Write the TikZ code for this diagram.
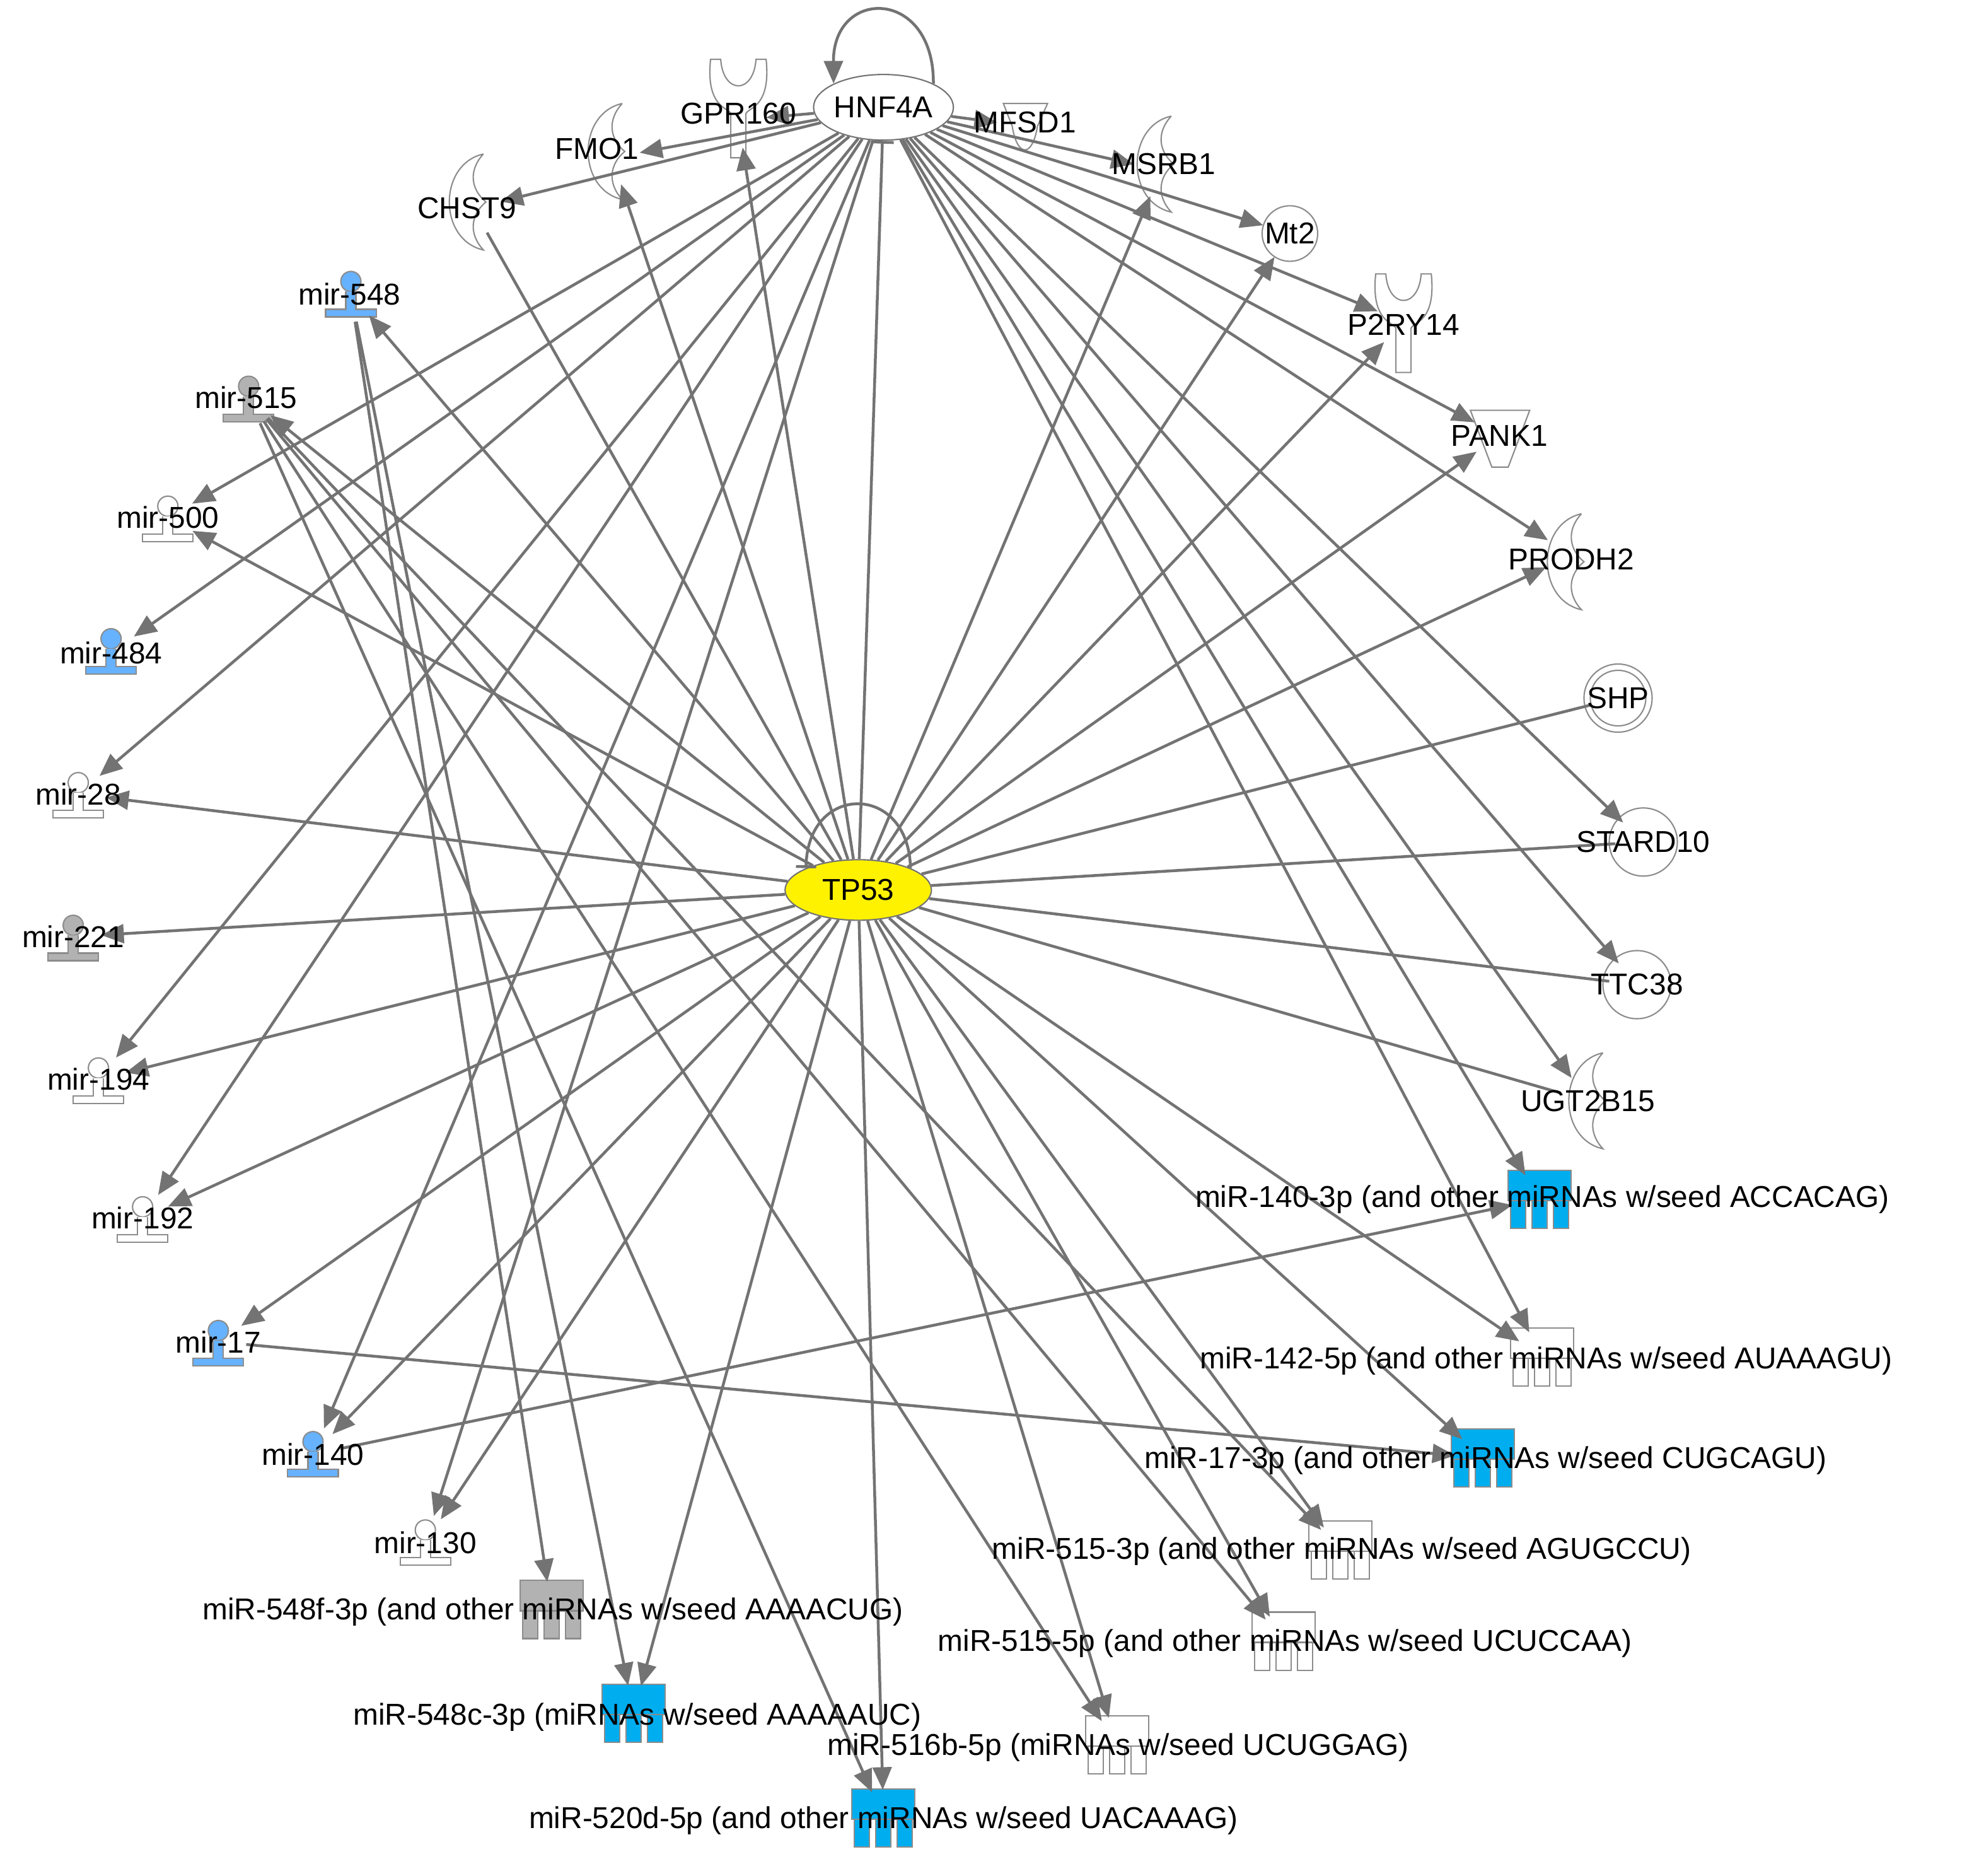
\documentclass[tikz,border=0pt]{standalone}
\usepackage{fontspec}
\setmainfont{Liberation Sans}
\usetikzlibrary{arrows.meta,shapes.geometric}
\begin{document}
\begin{tikzpicture}[x=0.05cm,y=-0.05cm,
  every node/.style={font=\fontsize{34}{36}\selectfont},
  hub/.style={circle,inner sep=0,minimum size=2.2cm},
  lbl/.style={inner sep=0},
  ed/.style={draw=black!55,line width=3.2pt,-{Triangle[length=0.9cm,width=0.75cm]}},
  pl/.style={draw=black!55,line width=3.2pt},
  ic/.style={draw=black!45,line width=1.5pt},
  hp/.pic={\draw[ic,fill=#1] (0,-12) circle (8);
    \draw[ic,fill=#1] (-4,-4) -- (-4,10) -- (-20,10) -- (-20,16) -- (20,16) -- (20,10) -- (4,10) -- (4,-4);},
  bx/.pic={\draw[ic,fill=#1] (-25,-20) rectangle (25,4);
    \foreach \u in {-17,0,17}{\draw[ic,fill=#1] (\u-6,4) rectangle (\u+6,26);}},
  enz/.pic={\draw[ic,fill=white] (8,-38) .. controls (-28,-30) and (-28,30) .. (8,38) .. controls (-4,25) and (-2,10) .. (10,0) .. controls (-2,-10) and (-4,-25) .. (8,-38);},
  rec/.pic={\draw[ic,fill=white] (-22,-38) .. controls (-26,0) and (-8,0) .. (-6,5) -- (-6,40) -- (6,40) -- (6,5) .. controls (8,0) and (26,0) .. (22,-38) -- (14,-38) .. controls (12,-10) and (-12,-10) .. (-14,-38) -- cycle;}
]
\useasboundingbox (0,0) rectangle (1568,1486);
% icons
\pic at (585,85) {rec}; \pic at (1112,255) {rec};
\pic at (485,120) {enz}; \pic at (375,160) {enz}; \pic at (920,130) {enz};
\pic at (1245,445) {enz}; \pic at (1262,872) {enz};
\draw[ic,fill=white] (795,82) -- (830,82) -- (822,100) .. controls (818,125) and (806,125) .. (802,100) -- cycle;
\draw[ic,fill=white] (1165,325) -- (1212,325) -- (1195,370) -- (1182,370) -- cycle;
\draw[ic,fill=white] (1022,185) circle (22);
\draw[ic,fill=white] (1282,553) circle (27); \draw[ic] (1282,553) circle (22);
\draw[ic,fill=white] (1302,667) circle (27);
\draw[ic,fill=white] (1297,780) circle (27);
\pic at (278,235) {hp=blue!50!cyan!60!white};
\pic at (197,318) {hp=black!30};
\pic at (133,413) {hp=white};
\pic at (88,518) {hp=blue!50!cyan!60!white};
\pic at (62,632) {hp=white};
\pic at (58,745) {hp=black!30};
\pic at (78,858) {hp=white};
\pic at (113,968) {hp=white};
\pic at (173,1066) {hp=blue!50!cyan!60!white};
\pic at (248,1154) {hp=blue!50!cyan!60!white};
\pic at (337,1224) {hp=white};
\pic at (1220,947) {bx=cyan};
\pic at (1222,1072) {bx=white};
\pic at (1175,1152) {bx=cyan};
\pic at (1062,1225) {bx=white};
\pic at (1017,1297) {bx=white};
\pic at (437,1272) {bx=black!30};
\pic at (502,1354) {bx=cyan};
\pic at (885,1379) {bx=white};
\pic at (700,1437) {bx=cyan};
% hubs
\node[ellipse,draw=black!55,line width=1.5pt,fill=white,minimum width=5.2cm,minimum height=2.6cm,inner sep=0] (HNF) at (700,85) {HNF4A};
\node[ellipse,draw=black!55,line width=1.5pt,fill=yellow,minimum width=5.8cm,minimum height=2.4cm,inner sep=0] (TP) at (680,705) {TP53};
\foreach \n/\x/\y in {GPR/585/95, FMO/485/125, CHS/375/165, MFS/812/100, MSR/920/135, MT/1022/185, P2R/1112/255, PAN/1188/345, PRO/1245/440, SHP/1282/553, STA/1302/667, TTC/1297/780, UGT/1258/872,
 m548/278/233, m515/197/315, m500/133/410, m484/88/517, m28/62/629, m221/58/742, m194/78/855, m192/113/965, m17/173/1063, m140/248/1152, m130/337/1222,
 c140/1220/950, c142/1222/1075, c173/1175/1155, c5153/1062/1228, c5155/1017/1300, c548f/437/1275, c548c/502/1357, c516b/885/1382, c520d/700/1440}
  \node[hub] (\n) at (\x,\y) {};
% edges
\foreach \t in {GPR,FMO,CHS,MFS,MSR,MT,P2R,PAN,PRO,STA,TTC,UGT,m500,m484,m28,m194,m192,m140,m130,c142,c140}
  \draw[ed] (HNF) -- (\t);
\foreach \t in {m548,m515,m500,m28,m221,m194,m192,m17,m140,m130,GPR,FMO,MSR,MT,P2R,PAN,PRO,c548c,c520d,c516b,c5155,c5153,c173,c142}
  \draw[ed] (TP) -- (\t);
\foreach \t in {SHP,STA,TTC,UGT,CHS} \draw[pl] (TP) -- (\t);
\draw[pl,-{Bar[width=0.9cm]}] (TP) -- (HNF);
\draw[ed] (m548) -- (c548f); \draw[ed] (m548) -- (c548c);
\draw[ed] (m515) -- (c5153); \draw[ed] (m515) -- (c5155); \draw[ed] (m515) -- (c516b); \draw[ed] (m515) -- (c520d);
\draw[ed] (m17) -- (c173); \draw[ed] (m140) -- (c140);
\draw[ed] (HNF.north east) .. controls (740,-10) and (660,-10) .. (HNF.north west);
\draw[pl,-{Bar[width=0.8cm]}] (TP.north east) .. controls (720,620) and (640,620) .. (TP.north west);
% labels
\foreach \x/\y/\t in {585/90/GPR160, 473/118/FMO1, 370/165/CHST9, 812/97/MFSD1, 922/130/MSRB1, 1022/185/Mt2, 1112/257/P2RY14, 1188/345/PANK1, 1245/443/PRODH2, 1282/553/SHP, 1302/667/STARD10, 1297/780/TTC38, 1258/872/UGT2B15,
 277/233/mir-548, 195/315/mir-515, 133/410/mir-500, 88/517/mir-484, 62/629/mir-28, 58/742/mir-221, 78/855/mir-194, 113/965/mir-192, 173/1063/mir-17, 248/1152/mir-140, 337/1222/mir-130}
  \node[lbl] at (\x,\y) {\t};
\node[lbl] at (1222,950) {miR-140-3p (and other miRNAs w/seed ACCACAG)};
\node[lbl] at (1225,1078) {miR-142-5p (and other miRNAs w/seed AUAAAGU)};
\node[lbl] at (1177,1157) {miR-17-3p (and other miRNAs w/seed CUGCAGU)};
\node[lbl] at (1063,1229) {miR-515-3p (and other miRNAs w/seed AGUGCCU)};
\node[lbl] at (1018,1302) {miR-515-5p (and other miRNAs w/seed UCUCCAA)};
\node[lbl] at (438,1277) {miR-548f-3p (and other miRNAs w/seed AAAACUG)};
\node[lbl] at (505,1360) {miR-548c-3p (miRNAs w/seed AAAAAUC)};
\node[lbl] at (886,1384) {miR-516b-5p (miRNAs w/seed UCUGGAG)};
\node[lbl] at (700,1442) {miR-520d-5p (and other miRNAs w/seed UACAAAG)};
\end{tikzpicture}
\end{document}
